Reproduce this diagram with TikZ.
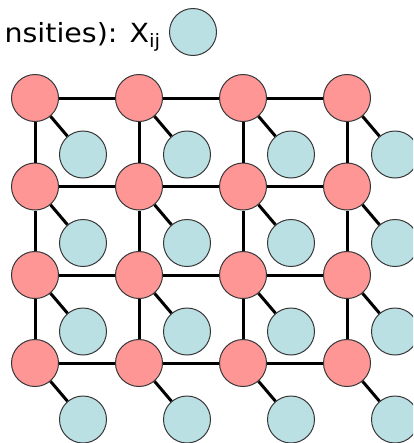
\documentclass[tikz,border=0pt]{standalone}
\usepackage{fontspec}
\setmainfont{DejaVu Sans}
\usetikzlibrary{positioning}

\definecolor{sitered}{RGB}{255,150,150}
\definecolor{obsblue}{RGB}{187,224,228}
\definecolor{rimgray}{RGB}{55,55,55}

\begin{document}
\begin{tikzpicture}[x=0.03cm, y=-0.03cm,
      site/.style={circle, draw=rimgray, line width=0.03cm, fill=sitered,
                   minimum size=1.41cm, inner sep=0pt},
      obs/.style={circle, draw=rimgray, line width=0.03cm, fill=obsblue,
                  minimum size=1.41cm, inner sep=0pt},
      link/.style={line width=0.09cm, black},
      lbl/.style={font=\fontsize{22.5}{26}\selectfont, anchor=base east, inner sep=0pt}]

    % Frame of the picture (clips what runs off the edges)
    \clip (0,0) rectangle (413,443);
    \useasboundingbox (0,0) rectangle (413,443);

    % Column x and row y of the red sites (px)
    \def\cA{35}
    \def\cB{139}
    \def\cC{243}
    \def\cD{347}
    \def\rA{98}
    \def\rB{186.5}
    \def\rC{275}
    \def\rD{363}
    % offset of each observation from its site
    \def\dx{48}
    \def\dy{56.5}

    % Legend on top
    \node[lbl] (legtxt) at (161, 42) {\scalebox{1.08}[1]{nsities): X\textsubscript{ij}}};
    \node[obs] (legobs) at (193, 32) {};

    % Row 1
    \node[site] (s11) at (\cA, \rA) {};
    \node[site] (s12) at (\cB, \rA) {};
    \node[site] (s13) at (\cC, \rA) {};
    \node[site] (s14) at (\cD, \rA) {};
    % Row 2
    \node[site] (s21) at (\cA, \rB) {};
    \node[site] (s22) at (\cB, \rB) {};
    \node[site] (s23) at (\cC, \rB) {};
    \node[site] (s24) at (\cD, \rB) {};
    % Row 3
    \node[site] (s31) at (\cA, \rC) {};
    \node[site] (s32) at (\cB, \rC) {};
    \node[site] (s33) at (\cC, \rC) {};
    \node[site] (s34) at (\cD, \rC) {};
    % Row 4
    \node[site] (s41) at (\cA, \rD) {};
    \node[site] (s42) at (\cB, \rD) {};
    \node[site] (s43) at (\cC, \rD) {};
    \node[site] (s44) at (\cD, \rD) {};

    % Observations, one below right of each site
    \node[obs] (x11) at (\cA+\dx, \rA+\dy) {};
    \node[obs] (x12) at (\cB+\dx, \rA+\dy) {};
    \node[obs] (x13) at (\cC+\dx, \rA+\dy) {};
    \node[obs] (x14) at (\cD+\dx, \rA+\dy) {};
    \node[obs] (x21) at (\cA+\dx, \rB+\dy) {};
    \node[obs] (x22) at (\cB+\dx, \rB+\dy) {};
    \node[obs] (x23) at (\cC+\dx, \rB+\dy) {};
    \node[obs] (x24) at (\cD+\dx, \rB+\dy) {};
    \node[obs] (x31) at (\cA+\dx, \rC+\dy) {};
    \node[obs] (x32) at (\cB+\dx, \rC+\dy) {};
    \node[obs] (x33) at (\cC+\dx, \rC+\dy) {};
    \node[obs] (x34) at (\cD+\dx, \rC+\dy) {};
    \node[obs] (x41) at (\cA+\dx, \rD+\dy) {};
    \node[obs] (x42) at (\cB+\dx, \rD+\dy) {};
    \node[obs] (x43) at (\cC+\dx, \rD+\dy) {};
    \node[obs] (x44) at (\cD+\dx, \rD+\dy) {};

    % Horizontal links
    \draw[link] (s11) -- (s12);  \draw[link] (s12) -- (s13);  \draw[link] (s13) -- (s14);
    \draw[link] (s21) -- (s22);  \draw[link] (s22) -- (s23);  \draw[link] (s23) -- (s24);
    \draw[link] (s31) -- (s32);  \draw[link] (s32) -- (s33);  \draw[link] (s33) -- (s34);
    \draw[link] (s41) -- (s42);  \draw[link] (s42) -- (s43);  \draw[link] (s43) -- (s44);

    % Vertical links
    \draw[link] (s11) -- (s21);  \draw[link] (s21) -- (s31);  \draw[link] (s31) -- (s41);
    \draw[link] (s12) -- (s22);  \draw[link] (s22) -- (s32);  \draw[link] (s32) -- (s42);
    \draw[link] (s13) -- (s23);  \draw[link] (s23) -- (s33);  \draw[link] (s33) -- (s43);
    \draw[link] (s14) -- (s24);  \draw[link] (s24) -- (s34);  \draw[link] (s34) -- (s44);

    % Site to observation
    \draw[link] (s11) -- (x11);  \draw[link] (s12) -- (x12);  \draw[link] (s13) -- (x13);  \draw[link] (s14) -- (x14);
    \draw[link] (s21) -- (x21);  \draw[link] (s22) -- (x22);  \draw[link] (s23) -- (x23);  \draw[link] (s24) -- (x24);
    \draw[link] (s31) -- (x31);  \draw[link] (s32) -- (x32);  \draw[link] (s33) -- (x33);  \draw[link] (s34) -- (x34);
    \draw[link] (s41) -- (x41);  \draw[link] (s42) -- (x42);  \draw[link] (s43) -- (x43);  \draw[link] (s44) -- (x44);

\end{tikzpicture}
\end{document}
